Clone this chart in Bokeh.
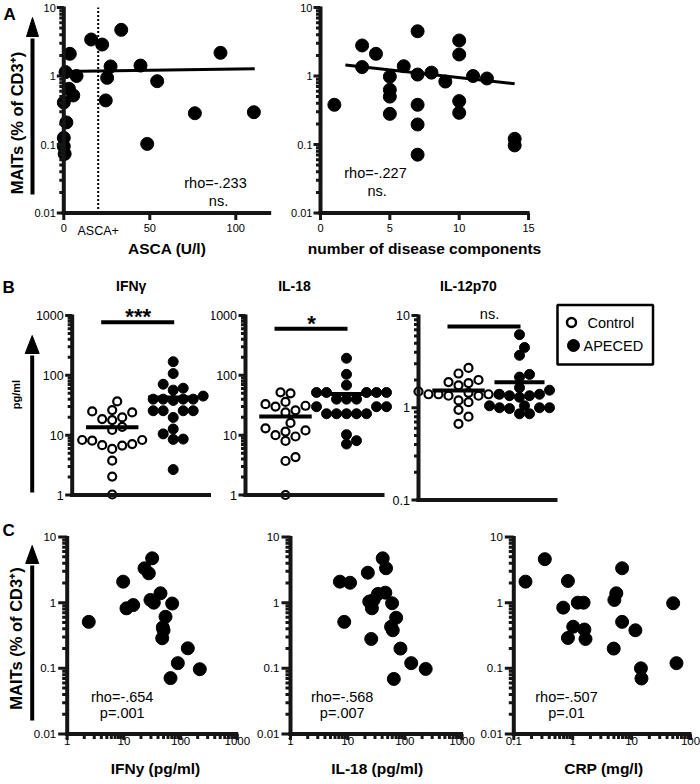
import math
from bokeh.plotting import figure
from bokeh.layouts import row, column
from bokeh.models import Range1d, Label, LabelSet, Arrow, ColumnDataSource
from bokeh.core.properties import value
from bokeh.embed import file_html
from bokeh.resources import INLINE

FONT = "Liberation Sans"
AXC = "#151515"

# ---------------- data ----------------
asca_x = [3.5, 1, 7.4, 3, 5.5, 0, 1.5, 0, 0, 0.5, 15.9, 22.3, 33.4, 27.2, 25.2, 24.4, 44.6, 54.3, 91.1, 76.2, 110.5, 48.5]
asca_mait = [2.11, 1.14, 1.0, 0.65, 0.52, 0.41, 0.21, 0.125, 0.094, 0.073, 3.41, 2.88, 4.72, 1.38, 0.94, 0.44, 1.42, 0.84, 2.18, 0.286, 0.296, 0.102]
asca_fit_x = [0, 111]
asca_fit_y = [1.16, 1.28]
asca_cutoff = 20
asca_stats = ["rho=-.233", "ns."]
asca_ticks = [0, 50, 100]
asca_tick_labels = ["0", "50", "100"]

comp_x = [1, 3, 3, 4, 5, 5, 5, 5, 6, 7, 7, 7, 7, 7, 8, 9, 10, 10, 10, 10, 11, 12, 14, 14]
comp_mait = [0.38, 2.79, 1.35, 2.11, 0.98, 0.63, 0.50, 0.28, 1.39, 4.5, 1.05, 0.38, 0.196, 0.071, 1.12, 0.83, 3.3, 2.06, 0.43, 0.29, 1.0, 0.92, 0.121, 0.097]
comp_fit_x = [1.8, 14]
comp_fit_y = [1.45, 0.77]
comp_stats = ["rho=-.227", "ns."]
comp_ticks = [0, 5, 10, 15]
comp_tick_labels = ["0", "5", "10", "15"]

mait_ticks = [0.01, 0.1, 1, 10]
mait_tick_labels = ["0.01", "0.1", "1", "10"]

groups = ["Control", "APECED"]
ifng_ctrl = [36.6, 26.3, 24.9, 24.0, 19.8, 18.6, 17.9, 13.8, 12.2, 8.3, 8.3, 8.1, 7.1, 6.8, 6.7, 5.9, 3.75, 2.03, 1.02]
ifng_apeced = [169, 107, 71, 61, 56.6, 45, 40, 40, 40, 40, 38, 25.6, 25.6, 25.6, 25.6, 19.8, 12.7, 10.5, 8.6, 8.5, 2.66]
ifng_mean = [13.6, 42.6]
il18_ctrl = [52, 50, 36, 33, 31, 30, 26, 24, 16, 13, 12, 11.5, 10, 9.5, 8, 4.3, 3.7, 1.0]
il18_apeced = [193, 104, 68.6, 51.7, 51.7, 51.7, 51.7, 51.7, 40, 40, 40, 29.9, 29.9, 29.9, 22.8, 22.8, 22.8, 22.8, 22.8, 10.2, 8.1, 7.1]
il18_mean = [20.6, 48.6]
il12_ctrl = [2.7, 2.35, 2.0, 1.9, 1.85, 1.75, 1.5, 1.45, 1.4, 1.4, 1.4, 1.4, 1.35, 1.35, 1.2, 1.15, 0.95, 0.8, 0.67]
il12_apeced = [6.2, 4.5, 3.7, 2.3, 2.15, 1.65, 1.55, 1.4, 1.4, 1.35, 1.35, 1.3, 1.05, 1.05, 1.0, 1.0, 1.0, 0.98, 0.86, 0.86]
il12_mean = [1.54, 1.89]
b_titles = ["IFN\u03b3", "IL-18", "IL-12p70"]
b_stats = ["***", "*", "ns."]
cyt_ticks = [1, 10, 100, 1000]
cyt_tick_labels = ["1", "10", "100", "1000"]
il12_ticks = [0.1, 1, 10]
il12_tick_labels = ["0.1", "1", "10"]

c_ifng = [2.4, 9.7, 11.1, 14.6, 23.1, 31.5, 27.5, 29.4, 33.7, 44.2, 71, 54.2, 48.5, 50, 47.4, 134, 89.3, 218, 66.4]
c_ifng_mait = [0.51, 2.09, 0.82, 0.92, 3.34, 4.74, 2.8, 1.1, 1.0, 1.39, 0.97, 0.61, 0.42, 0.38, 0.287, 0.202, 0.12, 0.097, 0.071]
c_il18 = [7.3, 11, 8.7, 22.5, 40.9, 46.8, 33.8, 45.5, 23.8, 28.4, 26.5, 59.7, 70.3, 57.3, 61.4, 25.8, 83.6, 129, 231, 64]
c_il18_mait = [2.09, 2.01, 0.51, 2.86, 4.74, 3.34, 1.36, 1.42, 1.04, 1.1, 0.82, 0.98, 0.59, 0.43, 0.38, 0.28, 0.2, 0.12, 0.098, 0.069]
c_crp = [0.158, 0.336, 0.83, 0.69, 1.22, 1.53, 1.02, 0.83, 1.58, 1.65, 5.1, 5.5, 6.9, 6.9, 4.97, 11.6, 14.4, 14.7, 50.8, 57.8]
c_crp_mait = [2.09, 4.6, 2.14, 0.84, 1.0, 1.0, 0.43, 0.29, 0.39, 0.28, 1.1, 1.39, 3.34, 0.51, 0.2, 0.38, 0.1, 0.07, 0.98, 0.12]
c_stats = [["rho=-.654", "p=.001"], ["rho=-.568", "p=.007"], ["rho=-.507", "p=.01"]]
c_xtitles = ["IFNy (pg/ml)", "IL-18 (pg/ml)", "CRP (mg/l)"]
c_pg_ticks = [1, 10, 100, 1000]
c_pg_tick_labels = ["1", "10", "100", "1000"]
crp_ticks = [0.1, 1, 10, 100]
crp_tick_labels = ["0.1", "1", "10", "100"]
mait_title = "MAITs (% of CD3\u207a)"


class Map:
    """page pixel -> data value along one axis"""
    def __init__(s, kind, p0, v0, ppu, inv=False):
        s.kind, s.p0, s.v0, s.ppu, s.inv = kind, p0, v0, ppu, inv

    def __call__(s, px):
        d = (px - s.p0) / s.ppu
        if s.inv:
            d = -d
        if s.kind == "log":
            return 10 ** (math.log10(s.v0) + d)
        return s.v0 + d

    def shift(s, v, dpx):
        d = dpx / s.ppu
        if s.inv:
            d = -d
        if s.kind == "log":
            return v * 10 ** d
        return v + d


def mkfig(L, T, W, H, xm, ym, xt, yt):
    p = figure(width=W, height=H, x_range=Range1d(xm(L), xm(L + W)),
               y_range=Range1d(ym(T + H), ym(T)), x_axis_type=xt, y_axis_type=yt,
               x_axis_location=None, y_axis_location=None,
               output_backend="svg", toolbar_location=None,
               min_border_left=0, min_border_right=0, min_border_top=0, min_border_bottom=0)
    p.outline_line_color = None
    p.grid.visible = False
    p.background_fill_color = "white"
    p.border_fill_color = "white"
    return p


def minors(lo, hi):
    return [m * 10.0 ** e for e in range(lo, hi) for m in range(2, 10)]


def segs(p, x0, y0, x1, y1, lw, cap="butt"):
    src = ColumnDataSource(dict(x0=[float(v) for v in x0], y0=[float(v) for v in y0],
                                x1=[float(v) for v in x1], y1=[float(v) for v in y1]))
    p.add_layout(Arrow(x_start="x0", y_start="y0", x_end="x1", y_end="y1", source=src,
                       start=None, end=None, line_width=lw, line_color=AXC, line_cap=cap))


def labelset(p, xs, ys, texts, size, align, baseline):
    src = ColumnDataSource(dict(x=[float(v) for v in xs], y=[float(v) for v in ys], t=texts))
    p.add_layout(LabelSet(x="x", y="y", text="t", source=src, text_align=align, text_baseline=baseline,
                          text_font=value(FONT), text_font_size=value(f"{size}px"), text_color="black"))


# axes are collected and added last, after every text of the figure
AXES = []


def yaxis(p, xm, ym, ax_px, lo, hi, ticks, labels, minor, size, tl=7, ml=4.5, gap=8):
    n = len(ticks)
    if labels:
        labelset(p, [xm(ax_px - gap)] * n, ticks, labels, size, "right", "middle")
    x0 = xm(ax_px)
    AXES.append((p, [x0], [ym.shift(lo, 2)], [x0], [ym.shift(hi, -1)], 4, "butt"))
    allt = list(ticks) + list(minor)
    if allt:
        x1 = [xm(ax_px - tl)] * n + [xm(ax_px - ml)] * len(minor)
        AXES.append((p, [x0] * len(allt), allt, x1, allt, 3, "butt"))


def xaxis(p, xm, ym, ax_py, lo, hi, ticks, labels, minor, size, tl=7, ml=4.5, gap=11):
    n = len(ticks)
    if labels:
        labelset(p, ticks, [ym(ax_py + gap)] * n, labels, size, "center", "top")
    y0 = ym(ax_py)
    AXES.append((p, [xm.shift(lo, -2)], [y0], [xm.shift(hi, 1)], [y0], 4, "butt"))
    allt = list(ticks) + list(minor)
    if allt:
        y1 = [ym(ax_py + tl)] * n + [ym(ax_py + ml)] * len(minor)
        AXES.append((p, allt, [y0] * len(allt), allt, y1, 3, "butt"))


def txt(p, xm, ym, px, py, s, size, bold=False, align="center", baseline="middle", angle=0.0):
    p.add_layout(Label(x=xm(px), y=ym(py), text=s, text_font=FONT, text_font_size=f"{size}px",
                       text_font_style="bold" if bold else "normal", text_align=align,
                       text_baseline=baseline, angle=angle, text_color="black"))


def arrow(p, xm, ym, x, y_bottom, y_tip, y_base, half_w, lw=4):
    p.segment(x0=[xm(x)], y0=[ym(y_bottom)], x1=[xm(x)], y1=[ym(y_base + 2)],
              line_width=lw, line_color="black")
    p.patch(x=[xm(x - half_w), xm(x), xm(x + half_w)], y=[ym(y_base), ym(y_tip), ym(y_base)],
            fill_color="black", line_color="black", line_width=1)


def swarm(vals, ppd, d=10.0, step=5.0):
    ys = [math.log10(v) * ppd for v in vals]
    order = sorted(range(len(vals)), key=lambda i: ys[i])
    cands = [0]
    for j in range(1, 30):
        cands += [j, -j]
    placed, offs = [], [0.0] * len(vals)
    for i in order:
        xo = 0.0
        for c in cands:
            xo = c * step
            if all((xo - a) ** 2 + (ys[i] - b) ** 2 >= (0.92 * d) ** 2 for a, b in placed):
                break
        placed.append((xo, ys[i]))
        offs[i] = xo
    return offs


# ---------------- row A ----------------
yA = Map("log", 7, 10, 68.5, inv=True)
xA1 = Map("lin", 63.3, 0, 1.72)
xA2 = Map("lin", 320, 0, 13.87)
A1 = mkfig(0, 0, 284, 270, xA1, yA, "linear", "log")
A2 = mkfig(284, 0, 416, 270, xA2, yA, "linear", "log")

A1.segment(x0=[asca_cutoff], y0=[0.01], x1=[asca_cutoff], y1=[10], line_dash="2 2",
           line_width=2, line_color="black")
A1.scatter(asca_x, asca_mait, size=13, color="black")
A1.line(asca_fit_x, asca_fit_y, line_width=3, color="black")
A2.scatter(comp_x, comp_mait, size=13, color="black")
A2.line(comp_fit_x, comp_fit_y, line_width=3, color="black")
arrow(A1, xA1, yA, 32, 194, 17, 36, 6)

for p, xm, ax_px, xhi, xt, xl in ((A1, xA1, 63.3, 120, asca_ticks, asca_tick_labels),
                                  (A2, xA2, 320, 15, comp_ticks, comp_tick_labels)):
    yaxis(p, xm, yA, ax_px, 0.01, 10, mait_ticks, mait_tick_labels, minors(-2, 1), 11)
    xaxis(p, xm, yA, 212.5, 0, xhi, xt, xl, [], 11, gap=10.5)

A1.add_layout(Label(x=asca_cutoff, y=yA(223), text="ASCA+", text_font=FONT, text_font_size="12.5px",
                    text_align="center", text_baseline="top", text_color="black"))
txt(A1, xA1, yA, 166.7, 248.3, "ASCA (U/l)", 15.5, bold=True)
txt(A1, xA1, yA, 215, 182.7, asca_stats[0], 14.5)
txt(A1, xA1, yA, 218, 200, asca_stats[1], 14.5)
txt(A1, xA1, yA, 3, 14, "A", 17, bold=True, align="left")
txt(A1, xA1, yA, 16.7, 122.5, mait_title, 16.5, bold=True, angle=math.pi / 2)
txt(A2, xA2, yA, 424, 248.3, "number of disease components", 15.5, bold=True)
txt(A2, xA2, yA, 375, 172.7, comp_stats[0], 14.5)
txt(A2, xA2, yA, 376.7, 190, comp_stats[1], 14.5)

# ---------------- row B ----------------
PPU_B = 61.0
yB = Map("log", 494.5, 1, 59.83, inv=True)
yB3 = Map("log", 499.5, 0.1, 92.25, inv=True)
ax_B = [71.7, 245, 418]
xB = [Map("lin", a + 40, 1, PPU_B) for a in ax_B]
B1 = mkfig(0, 270, 211, 248, xB[0], yB, "linear", "log")
B2 = mkfig(211, 270, 181, 248, xB[1], yB, "linear", "log")
B3 = mkfig(392, 270, 308, 248, xB[2], yB3, "linear", "log")

b_data = [(ifng_ctrl, ifng_apeced, ifng_mean), (il18_ctrl, il18_apeced, il18_mean), (il12_ctrl, il12_apeced, il12_mean)]
b_figs = [B1, B2, B3]
b_ymaps = [yB, yB, yB3]
b_ppd = [59.83, 59.83, 92.25]
b_bar_y = [321.7, 328.3, 326]
b_title_x = [130.7, 294, 468]

for k in range(3):
    p, xm, ym, a = b_figs[k], xB[k], b_ymaps[k], ax_B[k]
    ctrl, ap, mean = b_data[k]

    oc = swarm(ctrl, b_ppd[k])
    p.scatter([1 + o / PPU_B for o in oc], ctrl, size=8, fill_color="white",
              line_color="black", line_width=2.2)
    oa = swarm(ap, b_ppd[k])
    p.scatter([2 + o / PPU_B for o in oa], ap, size=10, fill_color="black", line_color="black")
    p.segment(x0=[1 - 0.43, 2 - 0.41], y0=mean, x1=[1 + 0.43, 2 + 0.41], y1=mean,
              line_width=4, line_color="black")
    by = ym(b_bar_y[k])
    p.segment(x0=[xm(a + 29)], y0=[by], x1=[xm(a + 102)], y1=[by], line_width=4, line_color="black")

    if k < 2:
        yaxis(p, xm, ym, a, 1, 1000, cyt_ticks, cyt_tick_labels, minors(0, 3), 12.5, gap=8.5)
        xaxis(p, xm, ym, 494.5, xm(a), xm(a + 138), [], [], [], 12)
    else:
        yaxis(p, xm, ym, a, 0.1, 10, il12_ticks, il12_tick_labels, minors(-1, 1), 12.5, gap=8.5)
        xaxis(p, xm, ym, 499.5, xm(a), xm(a + 138), [], [], [], 12)

    if b_stats[k] == "ns.":
        txt(p, xm, ym, a + 71, b_bar_y[k] - 13, b_stats[k], 14.5)
    else:
        txt(p, xm, ym, a + 66, b_bar_y[k] - 18, b_stats[k], 22, bold=True, baseline="top")
    txt(p, xm, ym, b_title_x[k], 285, b_titles[k], 14, bold=True)

arrow(B1, xB[0], yB, 31.7, 492, 335, 353, 7)
txt(B1, xB[0], yB, 2, 287, "B", 17, bold=True, align="left")
txt(B1, xB[0], yB, 15.3, 394, "pg/ml", 11, bold=True, angle=math.pi / 2)

xm3, ym3 = xB[2], yB3
B3.quad(left=[xm3(557)], right=[xm3(652.5)], top=[ym3(304.5)], bottom=[ym3(364)],
        fill_color=None, line_color="black", line_width=2.5)
B3.scatter([xm3(571)], [ym3(322)], size=9, fill_color="white", line_color="black", line_width=2.5)
B3.scatter([xm3(573)], [ym3(345)], size=12, fill_color="black", line_color="black")
txt(B3, xm3, ym3, 587, 322, groups[0], 14.5, align="left")
txt(B3, xm3, ym3, 583, 345, groups[1], 14.5, align="left")

# ---------------- row C ----------------
yC = Map("log", 536.5, 10, 65.67, inv=True)
xC = [Map("log", 66.7, 1, 56.7), Map("log", 290, 1, 57.2), Map("log", 513.3, 0.1, 58.9)]
ax_C = [66.7, 290, 513.3]
C1 = mkfig(0, 518, 252, 266, xC[0], yC, "log", "log")
C2 = mkfig(252, 518, 226, 266, xC[1], yC, "log", "log")
C3 = mkfig(478, 518, 222, 266, xC[2], yC, "log", "log")
c_figs = [C1, C2, C3]
c_data = [(c_ifng, c_ifng_mait), (c_il18, c_il18_mait), (c_crp, c_crp_mait)]
c_stat_x = [121.7, 341.7, 566]
c_title_x = [155, 376.7, 603.3]

arrow(C1, xC[0], yC, 31.7, 720, 545, 563, 6.5)
for k in range(3):
    p, xm = c_figs[k], xC[k]
    xs, ys = c_data[k]
    p.scatter(xs, ys, size=13, color="black")
    if k < 2:
        xaxis(p, xm, yC, 733.5, 1, 1000, c_pg_ticks, c_pg_tick_labels, minors(0, 3), 11.5, tl=6, ml=5, gap=3)
    else:
        xaxis(p, xm, yC, 733.5, 0.1, 100, crp_ticks, crp_tick_labels, minors(-1, 2), 11.5, tl=6, ml=5, gap=3)
    yaxis(p, xm, yC, ax_C[k], 0.01, 10, mait_ticks, mait_tick_labels, minors(-2, 1), 11.5, tl=9, ml=5, gap=11)
    txt(p, xm, yC, c_stat_x[k], 696.7, c_stats[k][0], 14.5)
    txt(p, xm, yC, c_stat_x[k], 712.7, c_stats[k][1], 14.5)
    txt(p, xm, yC, c_title_x[k], 768, c_xtitles[k], 15.5, bold=True)

txt(C1, xC[0], yC, 2, 530, "C", 17, bold=True, align="left")
txt(C1, xC[0], yC, 15, 638, mait_title, 16.5, bold=True, angle=math.pi / 2)

# axis lines and ticks go on top of everything else
for (p, x0, y0, x1, y1, lw, cap) in AXES:
    segs(p, x0, y0, x1, y1, lw, cap)

layout = column(row(A1, A2), row(B1, B2, B3), row(C1, C2, C3))
open("out.html", "w").write(file_html(layout, INLINE, "MAITs"))
